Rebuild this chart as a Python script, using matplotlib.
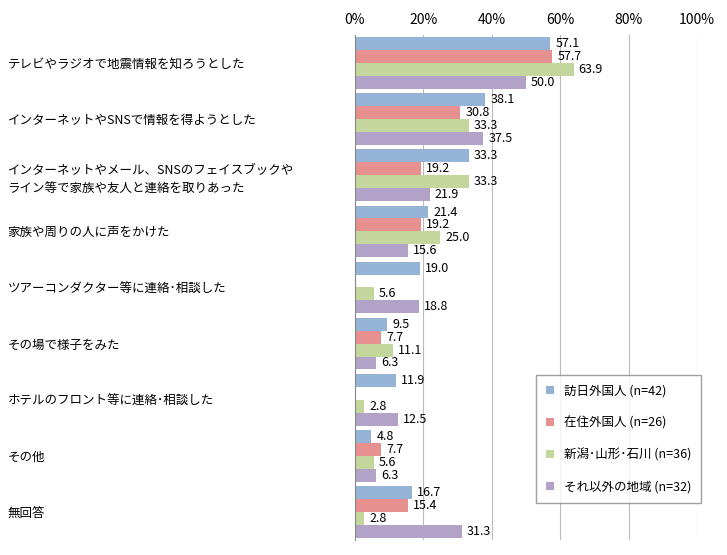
import matplotlib
matplotlib.use("Agg")
import matplotlib.pyplot as plt
import numpy as np

plt.rcParams['font.family'] = ['Noto Sans CJK JP', 'DejaVu Sans']

categories = ["テレビやラジオで地震情報を知ろうとした",
              "インターネットやSNSで情報を得ようとした",
              "インターネットやメール、SNSのフェイスブックや\nライン等で家族や友人と連絡を取りあった",
              "家族や周りの人に声をかけた",
              "ツアーコンダクター等に連絡･相談した",
              "その場で様子をみた",
              "ホテルのフロント等に連絡･相談した",
              "その他",
              "無回答"]
series_names = ["訪日外国人 (n=42)", "在住外国人 (n=26)", "新潟･山形･石川 (n=36)", "それ以外の地域 (n=32)"]
s1 = [57.1, 38.1, 33.3, 21.4, 19.0, 9.5, 11.9, 4.8, 16.7]
s2 = [57.7, 30.8, 19.2, 19.2, None, 7.7, None, 7.7, 15.4]
s3 = [63.9, 33.3, 33.3, 25.0, 5.6, 11.1, 2.8, 5.6, 2.8]
s4 = [50.0, 37.5, 21.9, 15.6, 18.8, 6.3, 12.5, 6.3, 31.3]
colors = ["#95B3D7", "#E6908F", "#C3D69B", "#B3A2C7"]

fig = plt.figure(figsize=(7.27, 5.55), dpi=100)
ax = fig.add_axes([0.488, 0.027, 0.471, 0.91])
h = 0.23
n = len(categories)
for j, (vals, c, name) in enumerate(zip([s1, s2, s3, s4], colors, series_names)):
    ys = np.arange(n) + (j - 1.5) * h
    v = [0 if x is None else x for x in vals]
    ax.barh(ys, v, height=h, color=c, label=name)
    for y, x in zip(ys, vals):
        if x is not None:
            ax.text(x + 1.5, y, f"{x:.1f}", va='center', ha='left', fontsize=9)

ax.set_ylim(n - 0.5, -0.5)
ax.set_xlim(0, 100)
ax.xaxis.tick_top()
ax.set_xticks(range(0, 101, 20))
ax.set_xticklabels([f"{t}%" for t in range(0, 101, 20)], fontsize=10)
ax.tick_params(axis='x', length=0, pad=6)
ax.set_yticks(np.arange(n))
ax.set_yticklabels(categories, fontsize=9, ha='left', linespacing=1.6)
ax.tick_params(axis='y', length=0, pad=250)
ax.grid(axis='x', color='#BBBBBB', linewidth=0.8)
ax.set_axisbelow(True)
for s in ['top', 'right', 'bottom']:
    ax.spines[s].set_visible(False)
ax.spines['left'].set_color('#888888')
leg = ax.legend(loc='lower right', bbox_to_anchor=(1.03, 0.06), fontsize=9, frameon=True,
                fancybox=False, edgecolor='#888888', handlelength=0.6, handleheight=0.6,
                labelspacing=1.5, borderpad=0.8)
fig.savefig("out.png", dpi=100)
